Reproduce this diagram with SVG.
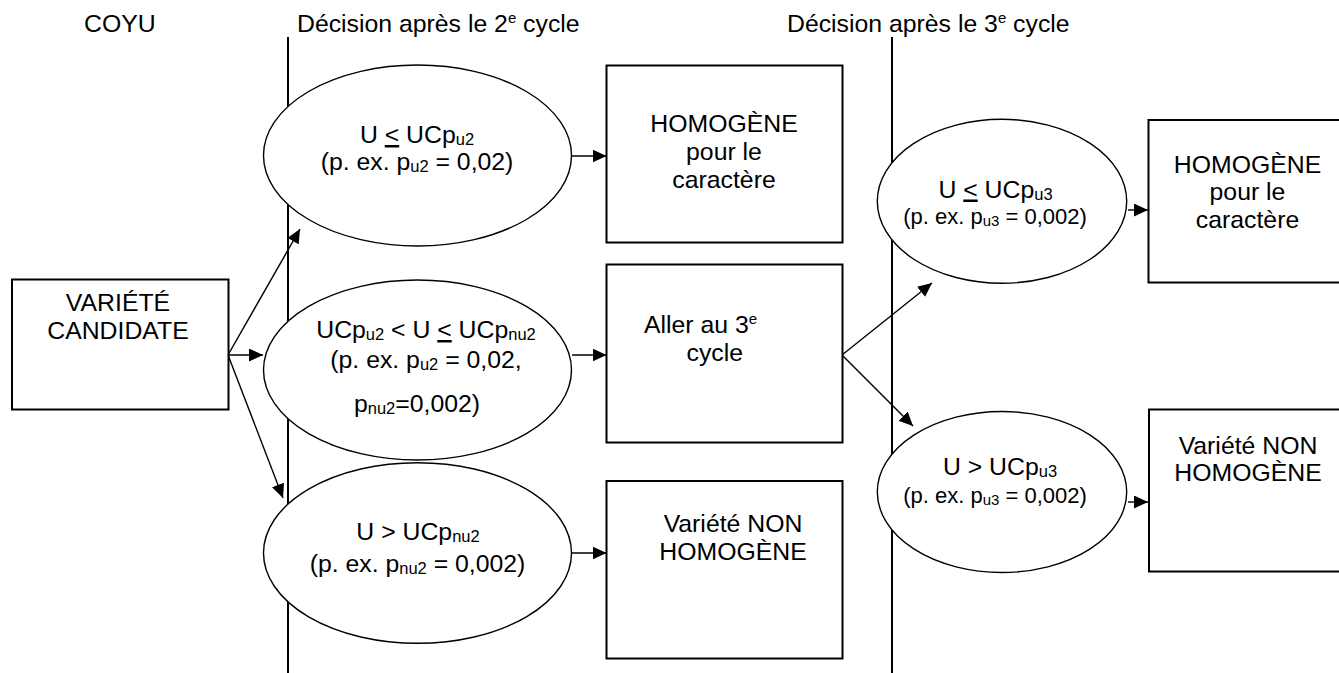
<svg xmlns="http://www.w3.org/2000/svg" width="1339" height="673" viewBox="0 0 1339 673">
  <style>
    text { font-family: "Liberation Sans", Arial, sans-serif; font-size: 24.8px; fill: #000; }
    .c { text-anchor: middle; }
    .sm { font-size: 22px; }
    .sub { font-size: 16.5px; }
    .sup { font-size: 15px; }
    .box { fill: #fff; stroke: #000; stroke-width: 2; }
    .ell { fill: #fff; stroke: #000; stroke-width: 1.4; }
    .guide { stroke: #000; stroke-width: 2; fill: none; }
    .conn { stroke: #000; stroke-width: 1.4; fill: none; marker-end: url(#arrow); }
  </style>
  <defs>
    <marker id="arrow" markerUnits="userSpaceOnUse" markerWidth="15" markerHeight="13" refX="14" refY="6.5" orient="auto">
      <path d="M0,0 L14,6.5 L0,13 z" fill="#000"/>
    </marker>
  </defs>

  <rect width="1339" height="673" fill="#fff"/>

  <!-- column headings -->
  <g id="headings">
    <text x="84" y="32">COYU</text>
    <text x="297" y="32">Décision après le 2<tspan class="sup" dy="-9">e</tspan><tspan dy="9"> cycle</tspan></text>
    <text x="787" y="32">Décision après le 3<tspan class="sup" dy="-9">e</tspan><tspan dy="9"> cycle</tspan></text>
  </g>

  <!-- cycle separators -->
  <g id="separators">
    <line class="guide" x1="288" y1="37" x2="288" y2="673"/>
    <line class="guide" x1="892" y1="37" x2="892" y2="673"/>
  </g>

  <!-- connectors -->
  <g id="connectors">
    <line class="conn" x1="228" y1="355" x2="300" y2="229"/>
    <line class="conn" x1="228" y1="355" x2="263" y2="355"/>
    <line class="conn" x1="228" y1="355" x2="283" y2="498"/>
    <line class="conn" x1="572" y1="156" x2="606.5" y2="156"/>
    <line class="conn" x1="572" y1="355" x2="606.5" y2="355"/>
    <line class="conn" x1="572" y1="553" x2="606.5" y2="553"/>
    <line class="conn" x1="842" y1="355" x2="932" y2="283"/>
    <line class="conn" x1="842" y1="355" x2="913" y2="426"/>
    <line class="conn" x1="1128" y1="210" x2="1148" y2="210"/>
    <line class="conn" x1="1128" y1="502" x2="1148" y2="502"/>
  </g>

  <g id="candidate">
    <rect class="box" x="12" y="279.5" width="216.5" height="130"/>
    <text class="c" x="118" y="311">VARIÉTÉ</text>
    <text class="c" x="118" y="339">CANDIDATE</text>
  </g>

  <g id="c2-low">
    <ellipse class="ell" cx="417.5" cy="155.5" rx="154" ry="90.5"/>
    <text class="c" x="417" y="143">U <tspan text-decoration="underline">&lt;</tspan> UCp<tspan class="sub" dy="2">u2</tspan></text>
    <text class="c" x="417" y="170">(p. ex. p<tspan class="sub" dy="2">u2</tspan><tspan dy="-2"> = 0,02)</tspan></text>
  </g>

  <g id="c2-mid">
    <ellipse class="ell" cx="417.5" cy="370" rx="154" ry="90"/>
    <text class="c" x="426" y="338">UCp<tspan class="sub" dy="2">u2</tspan><tspan dy="-2"> &lt; U </tspan><tspan text-decoration="underline">&lt;</tspan> UCp<tspan class="sub" dy="2">nu2</tspan></text>
    <text class="c" x="426" y="368">(p. ex. p<tspan class="sub" dy="2">u2</tspan><tspan dy="-2"> = 0,02,</tspan></text>
    <text class="c" x="417" y="412">p<tspan class="sub" dy="2">nu2</tspan><tspan dy="-2">=0,002)</tspan></text>
  </g>

  <g id="c2-high">
    <ellipse class="ell" cx="417.5" cy="553" rx="154" ry="90.3"/>
    <text class="c" x="418" y="540">U &gt; UCp<tspan class="sub" dy="2">nu2</tspan></text>
    <text class="c" x="417.5" y="571.5">(p. ex. p<tspan class="sub" dy="2">nu2</tspan><tspan dy="-2"> = 0,002)</tspan></text>
  </g>

  <g id="c2-uniform">
    <rect class="box" x="606.5" y="65.5" width="236" height="177"/>
    <text class="c" x="724" y="131.5">HOMOGÈNE</text>
    <text class="c" x="724" y="159.5">pour le</text>
    <text class="c" x="724" y="187.5">caractère</text>
  </g>

  <g id="c2-next">
    <rect class="box" x="606.5" y="264.5" width="236" height="178"/>
    <text x="644" y="332.5">Aller au 3<tspan class="sup" dy="-9">e</tspan></text>
    <text x="686.5" y="360.5">cycle</text>
  </g>

  <g id="c2-nonuniform">
    <rect class="box" x="606.5" y="481" width="236" height="177.5"/>
    <text class="c" x="733" y="531.5">Variété NON</text>
    <text class="c" x="733" y="559.5">HOMOGÈNE</text>
  </g>

  <g id="c3-low">
    <ellipse class="ell" cx="1002" cy="201.3" rx="124.7" ry="82"/>
    <text class="c" x="995.5" y="197.5">U <tspan text-decoration="underline">&lt;</tspan> UCp<tspan class="sub" dy="2">u3</tspan></text>
    <text class="c sm" x="995" y="224">(p. ex. p<tspan class="sub" dy="2" style="font-size:15px">u3</tspan><tspan dy="-2"> = 0,002)</tspan></text>
  </g>

  <g id="c3-high">
    <ellipse class="ell" cx="1002" cy="492" rx="124.7" ry="80.5"/>
    <text class="c" x="1000" y="474.5">U &gt; UCp<tspan class="sub" dy="2">u3</tspan></text>
    <text class="c sm" x="995" y="502.5">(p. ex. p<tspan class="sub" dy="2" style="font-size:15px">u3</tspan><tspan dy="-2"> = 0,002)</tspan></text>
  </g>

  <g id="c3-uniform">
    <rect class="box" x="1148.5" y="120" width="200" height="162.5"/>
    <text class="c" x="1247.5" y="172.5">HOMOGÈNE</text>
    <text class="c" x="1247.5" y="200">pour le</text>
    <text class="c" x="1247.5" y="227.5">caractère</text>
  </g>

  <g id="c3-nonuniform">
    <rect class="box" x="1149" y="409.5" width="200" height="162"/>
    <text class="c" x="1248" y="454">Variété NON</text>
    <text class="c" x="1248" y="481">HOMOGÈNE</text>
  </g>
</svg>
